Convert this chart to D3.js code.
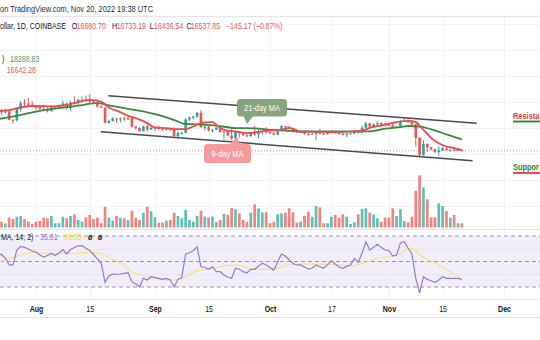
<!DOCTYPE html>
<html><head><meta charset="utf-8">
<script src="https://cdn.jsdelivr.net/npm/d3@7"></script>
<style>html,body{margin:0;padding:0;background:#fff;overflow:hidden}svg{display:block}</style>
</head><body><svg id="c" width="540" height="340"></svg>
<script>
// ---------- DATA ----------
const firstDay = "2022-07-22";   // one candle per day from here to 2022-11-20
const opens = [23160,22680,22450,22580,21310,21250,22950,23850,23780,23640,
 23300,23270,22980,22820,22620,23310,23330,23480,23810,23150,23950,23940,24400,24440,24300,24100,23850,23340,23200,20830,21140,21520,21400,21530,21370,21570,20260,20040,19550,20290,19800,
 20050,20130,19950,19830,19990,19800,18790,19290,19320,21360,21650,21830,22400,20180,20230,19700,19800,20110,19420,19540,18880,18480,19400,19290,18920,18800,19220,19080,19410,19590,
 19420,19310,19050,19620,20340,20160,19960,19530,19420,19440,19130,19060,19160,19380,19180,19070,19270,19550,19330,19130,19040,19170,19210,19570,19330,20090,20770,20290,20600,20820,20630,
 20490,20480,20160,20210,21150,21300,20920,20600,18540,15880,17590,17070,16810,16330,16620,16900,16670,16690,16670,16680.70];
const highs = [24280,22990,23010,22660,21360,23100,24180,24440,24650,24170,
 23480,23460,23650,23220,23460,23390,23680,24240,23940,24220,24920,24450,24890,25050,25210,24250,24450,23600,23210,21370,21700,21530,21680,21800,21800,21880,20380,20150,20420,20580,20490,
 20200,20440,19970,20000,20050,20180,19460,19450,21550,21800,21850,22480,22800,20540,20340,19880,20190,20110,19690,19620,19950,19480,19500,19310,19180,19310,20380,19780,19640,20170,
 19480,19400,19720,20470,20360,20450,20060,19620,19560,19520,19260,19220,19510,19950,19230,19420,19680,19700,19350,19350,19250,19260,19700,19610,20410,21020,20870,20750,21080,20930,20840,
 20700,20800,20390,21300,21480,21360,21070,20670,18600,18150,17660,17080,16880,17190,17130,17000,16750,16870,16800,16733.19];
const lows = [22900,22000,22270,21250,20710,21040,22580,23420,23500,23230,
 22850,22660,22700,22440,22590,22930,22990,23150,22880,22680,23860,23600,24300,24140,23770,23690,23200,23110,20780,20770,21060,20880,20900,21150,21300,20110,19830,19550,19550,19540,19780,
 19560,19760,19660,19600,19630,18680,18540,19010,19300,21140,21360,21600,20060,19640,19500,19330,19750,19350,18270,18800,18130,18370,18550,18840,18640,18680,18820,18470,19000,19190,
 19160,18930,18960,19500,19730,19860,19330,19260,19330,19030,18860,18970,18150,19070,18980,19070,19160,19100,19070,18900,18660,19120,19080,19170,19250,20060,20200,20000,20560,20520,20240,
 20350,20060,20030,20180,21080,20900,20390,17170,15590,15760,16360,16560,16230,15820,16540,16550,16400,16560,16550,16436.54];
const closes = [22680,22450,22580,21310,21250,22950,23850,23780,23640,23300,
 23270,22980,22820,22620,23310,23330,23480,23810,23150,23950,23940,24400,24440,24300,24100,23850,23340,23200,20830,21140,21520,21400,21530,21370,21570,20260,20040,19550,20290,19800,20050,
 20130,19950,19830,19990,19800,18790,19290,19320,21360,21650,21830,22400,20180,20230,19700,19800,20110,19420,19540,18880,18480,19400,19290,18920,18800,19220,19080,19410,19590,19420,
 19310,19050,19620,20340,20160,19960,19530,19420,19440,19130,19060,19160,19380,19180,19070,19270,19550,19330,19130,19040,19170,19210,19570,19330,20090,20770,20290,20600,20820,20630,20490,
 20480,20160,20210,21150,21300,20920,20600,18540,15880,17590,17070,16810,16330,16620,16900,16670,16690,16670,16680.70,16537.85];
const volumes = [12,11.6,8.4,19.6,17,21.6,23,17,11.6,7,
 11.6,13,19.6,18.4,23,8.4,8.4,21.6,18.4,23,26.4,15,11.6,20.4,25,17,19.6,8.4,41.6,19.6,13.6,23,19.6,18.4,15,33.6,19.6,15,29.6,41.6,32.4,
 20.4,9.6,9.6,13.6,15,29.6,23,18.4,35,15,11.6,23,33.6,21.6,19.6,21.6,10.4,15,27,25,39,36.4,28.4,15,11.6,29.6,46.4,38.4,30.4,30.4,
 8.4,11.6,26.4,28.4,29.6,38.4,30.4,9.6,11.6,23,31.6,21.6,43,40.4,8.4,8.4,21.6,25,19.6,26.4,21.6,7,10.4,26.4,37,38.4,29.6,26.4,18.4,11.6,19.6,
 19.6,38.4,23,37,13,10.4,21.6,73.6,104.4,80.4,56.4,20.4,20.4,48.4,43,33,19.6,25,8.4,8.4];
const rsiValues = [55.0,55.5,52.7,47.3,47.3,59.0,61.8,61.1,59.8,58.2,
 57.5,55.1,53.5,54.7,56.3,54.7,56.7,59.4,55.9,59.4,61.0,62.2,62.4,60.4,58.6,55.5,52.0,48.8,33.7,38.6,40.2,39.8,40.2,40.7,41.2,34.2,32.4,30.2,36.8,35.5,38.1,
 37.6,36.8,36.0,36.8,35.5,30.2,36.0,37.3,55.9,56.9,58.5,61.6,45.9,45.5,43.9,45.9,42.0,42.0,39.4,37.8,36.8,44.7,43.9,42.0,41.2,43.9,43.9,46.5,48.6,47.3,
 45.3,43.3,49.8,55.9,54.3,51.2,48.4,47.3,47.3,45.7,44.1,44.9,47.3,45.9,44.7,47.6,50.6,48.0,45.7,44.7,46.2,47.3,52.4,49.2,56.7,65.5,59.0,61.1,63.5,61.1,59.0,
 58.5,54.3,55.1,64.5,65.5,60.4,55.9,36.8,25.5,38.1,36.0,34.9,33.7,35.5,38.1,36.8,36.8,36.8,36.8,35.81];
const rsiMaDates = ["2022-07-22","2022-07-25","2022-07-28","2022-07-31","2022-08-03","2022-08-06","2022-08-10","2022-08-13","2022-08-17","2022-08-19","2022-08-23","2022-08-26","2022-08-30","2022-09-02","2022-09-06","2022-09-09","2022-09-12","2022-09-15","2022-09-18","2022-09-22","2022-09-24","2022-09-27","2022-10-01","2022-10-03","2022-10-06","2022-10-10","2022-10-15","2022-10-19","2022-10-22","2022-10-26","2022-10-29","2022-11-02","2022-11-04","2022-11-07","2022-11-09","2022-11-13","2022-11-15","2022-11-17","2022-11-20"];
const rsiMaValues = [49.3,52.5,55.1,57.2,56.4,56.4,56.4,56.9,56.9,54.5,48.6,42.0,38.1,36.0,35.5,38.1,42.8,43.9,45.9,47.3,46.2,43.9,43.9,44.7,47.3,48.0,48.0,47.3,46.5,49.4,52.5,54.3,56.4,60.4,55.1,49.1,45.5,42.0,36.55];
const ma21Dates = ["2022-07-22","2022-07-27","2022-08-02","2022-08-07","2022-08-12","2022-08-17","2022-08-20","2022-08-25","2022-08-30","2022-09-04","2022-09-07","2022-09-09","2022-09-12","2022-09-17","2022-09-22","2022-09-27","2022-10-01","2022-10-05","2022-10-09","2022-10-18","2022-10-27","2022-10-31","2022-11-04","2022-11-06","2022-11-09","2022-11-12","2022-11-16","2022-11-20"];
const ma21Values = [21415,21923,22692,23108,23477,23877,23539,23000,22462,21692,21046,20646,20616,20415,20031,20000,19769,19662,19508,19508,19540,19954,20185,20354,20277,19846,19077,18288.83];
const ma9Dates = ["2022-07-22","2022-07-26","2022-07-28","2022-07-31","2022-08-05","2022-08-09","2022-08-13","2022-08-15","2022-08-18","2022-08-20","2022-08-23","2022-08-25","2022-08-27","2022-08-30","2022-09-01","2022-09-04","2022-09-07","2022-09-09","2022-09-11","2022-09-13","2022-09-16","2022-09-17","2022-09-19","2022-09-22","2022-09-25","2022-09-27","2022-09-30","2022-10-04","2022-10-06","2022-10-09","2022-10-17","2022-10-25","2022-10-27","2022-10-30","2022-11-03","2022-11-06","2022-11-08","2022-11-10","2022-11-12","2022-11-14","2022-11-16","2022-11-18","2022-11-20"];
const ma9Values = [22615,22923,23200,23431,23385,23615,24154,24385,24108,23200,22492,21923,21569,20800,20123,20031,19877,19877,20277,20800,20954,20538,19769,19508,19262,19354,19615,19769,20077,19538,19415,19615,20077,20431,20954,21154,20954,19769,18538,17692,17200,16954,16642.28];
const channelUpperDates = ["2022-08-19T20:00","2022-11-23T22:00"];
const channelUpperPrices = [25015,20769];
const channelLowerDates = ["2022-08-17T21:00","2022-11-22T19:00"];
const channelLowerPrices = [19477,15015];
const lastClose = 16537.85;
const timeTickDates = ["2022-08-01","2022-08-15","2022-09-01","2022-09-15","2022-10-01","2022-10-17","2022-11-01","2022-11-15","2022-12-01"];
const timeTickLabels = ["Aug","15","Sep","15","Oct","17","Nov","15","Dec"];
const priceGridTicks = [8000,12000,16000,20000,24000,28000,32000,36000];
const rsiBandLevels = [70,50,30];
const rsiGridLevels = [60,40];

// ---------- SETUP ----------
const W = 540, H = 340;
const svg = d3.select("#c");
const pDay = d3.utcParse("%Y-%m-%d"), pTime = d3.utcParse("%Y-%m-%dT%H:%M");
const parse = s => s.length > 10 ? pTime(s) : pDay(s);
const days = d3.utcDay.range(parse(firstDay), d3.utcDay.offset(parse(firstDay), closes.length));

const x = d3.scaleUtc().domain([parse("2022-08-01"), parse("2022-12-01")]).range([36, 504]);
const yP = d3.scaleLinear().domain([16000, 20000]).range([154.3, 128.3]);
const yV = d3.scaleLinear().domain([0, 100]).range([227.5, 177.5]);
const yR = d3.scaleLinear().domain([30, 70]).range([287, 236]);

const UP = "#26a69a", DN = "#ef5350";
const FONT = "'Liberation Sans', Arial, sans-serif";

function label(parent, px, py, str, o = {}) {
  return parent.append("text")
    .attr("transform", `translate(${px},${py}) scale(${o.sx ?? 0.8},1)`)
    .attr("text-anchor", o.anchor || "start")
    .attr("font-family", FONT)
    .attr("font-size", o.size || 9.3)
    .attr("font-weight", o.weight || 400)
    .attr("fill", o.fill || "#131722")
    .text(str);
}

svg.append("rect").attr("width", W).attr("height", H).attr("fill", "#fff");

// clip paths
const defs = svg.append("defs");
defs.append("clipPath").attr("id", "mainClip").append("rect").attr("x", 0).attr("y", 17).attr("width", W).attr("height", 211);
defs.append("clipPath").attr("id", "rsiClip").append("rect").attr("x", 0).attr("y", 230).attr("width", W).attr("height", 69);

// RSI band background
svg.append("rect").attr("x", 0).attr("width", W)
  .attr("y", yR(70)).attr("height", yR(30) - yR(70)).attr("fill", "#f2eef9");

// grid
const grid = svg.append("g").attr("stroke", "#f0f3fa").attr("stroke-width", 1);
grid.selectAll(".vg").data(timeTickDates).join("line")
  .attr("x1", d => Math.round(x(parse(d))) + 0.5).attr("x2", d => Math.round(x(parse(d))) + 0.5)
  .attr("y1", 17).attr("y2", 299);
grid.selectAll(".hg").data(priceGridTicks).join("line")
  .attr("x1", 0).attr("x2", W)
  .attr("y1", d => Math.round(yP(d)) + 0.5).attr("y2", d => Math.round(yP(d)) + 0.5);
grid.selectAll(".rg").data(rsiGridLevels).join("line")
  .attr("x1", 0).attr("x2", W)
  .attr("y1", d => Math.round(yR(d)) + 0.5).attr("y2", d => Math.round(yR(d)) + 0.5)
  .attr("stroke", "#e9e4f5");

// pane borders
svg.append("line").attr("x1", 0).attr("x2", W).attr("y1", 16.5).attr("y2", 16.5).attr("stroke", "#e3e5ea").attr("stroke-width", 1.5);
svg.append("line").attr("x1", 0).attr("x2", W).attr("y1", 229.5).attr("y2", 229.5).attr("stroke", "#e0e3eb");
svg.append("line").attr("x1", 0).attr("x2", W).attr("y1", 299.5).attr("y2", 299.5).attr("stroke", "#e0e3eb");
svg.append("line").attr("x1", 0).attr("x2", W).attr("y1", 317.5).attr("y2", 317.5).attr("stroke", "#e0e3eb");

// ---------- MAIN PANE ----------
const main = svg.append("g").attr("clip-path", "url(#mainClip)");
const bars = days.map((d, i) => ({d, o: opens[i], h: highs[i], l: lows[i], c: closes[i], v: volumes[i]}));

// volume
main.append("g").selectAll("rect").data(bars).join("rect")
  .attr("x", b => x(b.d) - 1.35).attr("width", 2.7)
  .attr("y", b => yV(b.v)).attr("height", b => yV(0) - yV(b.v))
  .attr("fill", b => b.c >= b.o ? "rgba(38,166,154,0.72)" : "rgba(239,83,80,0.72)");

// last price line
main.append("line").attr("x1", 0).attr("x2", W)
  .attr("y1", yP(lastClose)).attr("y2", yP(lastClose))
  .attr("stroke", "#f28b8b").attr("stroke-dasharray", "1,2").attr("stroke-width", 1);

// candles
const cg = main.append("g");
cg.selectAll("line").data(bars).join("line")
  .attr("x1", b => x(b.d)).attr("x2", b => x(b.d))
  .attr("y1", b => yP(b.h)).attr("y2", b => yP(b.l))
  .attr("stroke", b => b.c >= b.o ? UP : DN).attr("stroke-width", 1);
cg.selectAll("rect").data(bars).join("rect")
  .attr("x", b => x(b.d) - 1.3).attr("width", 2.6)
  .attr("y", b => yP(Math.max(b.o, b.c)))
  .attr("height", b => Math.max(1, Math.abs(yP(b.o) - yP(b.c))))
  .attr("fill", b => b.c >= b.o ? UP : DN);

// moving averages
const maLine = d3.line().x(p => x(p[0])).y(p => yP(p[1])).curve(d3.curveMonotoneX);
main.append("path").datum(ma21Dates.map((d, i) => [parse(d), ma21Values[i]]))
  .attr("d", maLine).attr("fill", "none").attr("stroke", "#3b8a3e").attr("stroke-width", 1.8);
main.append("path").datum(ma9Dates.map((d, i) => [parse(d), ma9Values[i]]))
  .attr("d", maLine).attr("fill", "none").attr("stroke", "#f0474f").attr("stroke-width", 1.8);

// channel
const chan = d3.line().x(p => x(p[0])).y(p => yP(p[1]));
[[channelUpperDates, channelUpperPrices], [channelLowerDates, channelLowerPrices]].forEach(([ds, ps]) => {
  main.append("path").datum(ds.map((d, i) => [parse(d), ps[i]]))
    .attr("d", chan).attr("fill", "none").attr("stroke", "#4a4a4f").attr("stroke-width", 1.5);
});

// callouts
const c21 = svg.append("g");
c21.append("path").attr("d", "M243,115 L254,115 L247,124 Z").attr("fill", "#86a47f");
c21.append("rect").attr("x", 237).attr("y", 99).attr("width", 50).attr("height", 17.5).attr("rx", 3.5).attr("fill", "#86a47f");
label(c21, 262, 110.8, "21-day MA", {anchor: "middle", fill: "#fff", size: 9.3});

const c9 = svg.append("g");
c9.append("path").attr("d", "M229,145 L240,145 L237,137 Z").attr("fill", "#f59a9d");
c9.append("rect").attr("x", 204).attr("y", 144).attr("width", 47).attr("height", 19).attr("rx", 3.5).attr("fill", "#f59a9d");
label(c9, 227.5, 157, "9-day MA", {anchor: "middle", fill: "#fff", size: 9.3});

// support / resistance labels (only the part that the reference shows inside the frame)
label(svg, 513, 119.3, "Resista", {fill: "#e53935", weight: 700, size: 9.3});
svg.append("line").attr("x1", 513).attr("x2", W).attr("y1", 121.5).attr("y2", 121.5).attr("stroke", "#2e7d32").attr("stroke-width", 1.8);
label(svg, 513, 169.5, "Suppor", {fill: "#2e7d32", weight: 700, size: 9.3});
svg.append("line").attr("x1", 513).attr("x2", W).attr("y1", 173).attr("y2", 173).attr("stroke", "#e53935").attr("stroke-width", 1.8);

// ---------- RSI PANE ----------
const rsiG = svg.append("g").attr("clip-path", "url(#rsiClip)");
rsiG.selectAll(".band").data(rsiBandLevels).join("line")
  .attr("x1", 0).attr("x2", W)
  .attr("y1", d => yR(d)).attr("y2", d => yR(d))
  .attr("stroke", "#9598a1").attr("stroke-dasharray", "4,3").attr("stroke-width", 1);
const rLine = d3.line().x(p => x(p[0])).y(p => yR(p[1]));
rsiG.append("path").datum(rsiMaDates.map((d, i) => [parse(d), rsiMaValues[i]]))
  .attr("d", rLine.curve(d3.curveMonotoneX)).attr("fill", "none").attr("stroke", "#f7e27c").attr("stroke-width", 1.2);
rsiG.append("path").datum(days.map((d, i) => [d, rsiValues[i]]))
  .attr("d", d3.line().x(p => x(p[0])).y(p => yR(p[1]))).attr("fill", "none").attr("stroke", "#9479d9").attr("stroke-width", 1.2);

// ---------- TIME AXIS ----------
const axis = d3.axisBottom(x).tickValues(timeTickDates.map(parse))
  .tickFormat((d, i) => timeTickLabels[i]).tickSize(0);
const ax = svg.append("g").attr("transform", "translate(0,299.5)").call(axis);
ax.select(".domain").remove();
ax.selectAll("text")
  .attr("y", 13).attr("dy", 0)
  .attr("transform", "scale(0.8,1)")
  .attr("font-family", FONT).attr("font-size", 8.8)
  .attr("font-weight", (d, i) => /^[A-Z]/.test(timeTickLabels[i]) ? 700 : 400)
  .attr("fill", "#131722");

// ---------- HEADER TEXT ----------
label(svg, 0, 12.3, "on TradingView.com, Nov 20, 2022 19:38 UTC", {fill: "#2a2e39"});
label(svg, 0, 29.4, "ollar, 1D, COINBASE", {size: 8.8});
const red = "#f7525f";
label(svg, 71.7, 29.4, "O", {size: 8.8}); label(svg, 76.6, 29.4, "16680.70", {size: 8.8, fill: red});
label(svg, 112, 29.4, "H", {size: 8.8}); label(svg, 116.7, 29.4, "16733.19", {size: 8.8, fill: red});
label(svg, 149.8, 29.4, "L", {size: 8.8}); label(svg, 154, 29.4, "16436.54", {size: 8.8, fill: red});
label(svg, 186.4, 29.4, "C", {size: 8.8}); label(svg, 190.8, 29.4, "16537.85", {size: 8.8, fill: red});
label(svg, 226, 29.4, "\u2212145.17 (\u22120.87%)", {size: 8.8, fill: red});
label(svg, 2, 62, ")", {size: 8.8});
label(svg, 10, 62, "18288.83", {size: 8.8, fill: "#4e9a51"});
label(svg, 6.7, 72.7, "16642.28", {size: 8.8, fill: red});

label(svg, 1, 240, "MA, 14, 2)", {size: 8.8});
label(svg, 40, 240, "35.81", {size: 8.8, fill: "#8f74d6"});
label(svg, 64, 240, "36.55", {size: 8.8, fill: "#f2d85c"});
label(svg, 88, 240, "\u00f8", {size: 8.8, weight: 700});
label(svg, 98, 240, "\u00f8", {size: 8.8, weight: 700});
</script></body></html>
